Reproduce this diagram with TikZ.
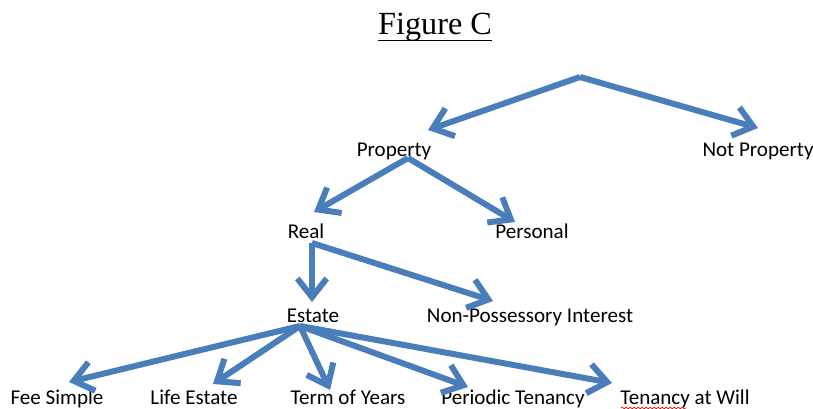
\documentclass[tikz,border=0pt]{standalone}
\usepackage{fontspec}
\setmainfont{Carlito}
\newfontfamily\titlefont{Liberation Serif}
\usetikzlibrary{arrows.meta,decorations.pathmorphing}
\definecolor{arrblue}{RGB}{74,126,187}
\tikzset{
  lbl/.style={anchor=base,inner sep=0pt,font=\fontsize{15.8}{18}\selectfont},
  arr/.style={draw=arrblue,line width=4.5pt,-{Straight Barb[length=14pt,width=22pt]}},
}
\begin{document}
\begin{tikzpicture}[x=0.75pt,y=-0.75pt]
\useasboundingbox (0,0) rectangle (813,409);
% title
\node[anchor=base,inner sep=0pt,font=\titlefont\fontsize{24.2}{28}\selectfont] (title) at (435,35) {Figure C};
\draw[line width=1.2pt] ([yshift=-4pt]title.base west) -- ([yshift=-4pt]title.base east);
% labels
\coordinate (root) at (580,77);
\node[lbl] (prop) at (394,157) {Property};
\node[lbl] (notprop) at (758,157) {Not Property};
\node[lbl] (real) at (306,239) {Real};
\node[lbl] (pers) at (532,239) {Personal};
\node[lbl] (estate) at (313,322) {Estate};
\node[lbl] (nonposs) at (530,322) {Non-Possessory Interest};
\node[lbl] (fee) at (57,404) {Fee Simple};
\node[lbl] (life) at (194,404) {Life Estate};
\node[lbl] (term) at (348,404) {Term of Years};
\node[lbl] (periodic) at (513,404) {Periodic Tenancy};
\node[lbl] (will) at (685,404) {Tenancy at Will};
% spell-check squiggle
\draw[red,line width=0.5pt,decorate,decoration={snake,amplitude=0.6pt,segment length=3pt}]
  ([shift={(-64,4)}]will.base) -- ([shift={(1,4)}]will.base);
% connectors
\draw[arr] (root) -- ([shift={(34,-27)}]prop.base);
\draw[arr] (root) -- ([shift={(0,-29)}]notprop.base);
\draw[arr] ([shift={(14,1)}]prop.base) -- ([shift={(8,-27)}]real.base);
\draw[arr] ([shift={(14,1)}]prop.base) -- ([shift={(-17,-17)}]pers.base);
\draw[arr] ([shift={(6,4)}]real.base) -- ([shift={(-1,-20)}]estate.base);
\draw[arr] ([shift={(6,4)}]real.base) -- ([shift={(-37,-21)}]nonposs.base);
\draw[arr] ([shift={(-13,4)}]estate.base) -- ([shift={(12,-22)}]fee.base);
\draw[arr] ([shift={(-13,4)}]estate.base) -- ([shift={(19,-20)}]life.base);
\draw[arr] ([shift={(-13,4)}]estate.base) -- ([shift={(-18,-14)}]term.base);
\draw[arr] ([shift={(-13,4)}]estate.base) -- ([shift={(-45,-17)}]periodic.base);
\draw[arr] ([shift={(-13,4)}]estate.base) -- ([shift={(-73,-21)}]will.base);
\end{tikzpicture}
\end{document}
